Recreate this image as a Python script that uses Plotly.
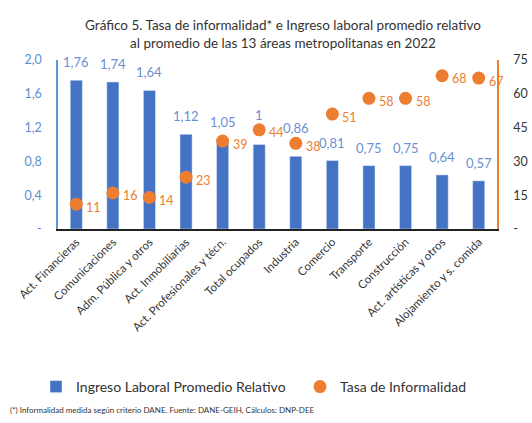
import plotly.graph_objects as go

categories = ["Act. Financieras", "Comunicaciones", "Adm. Pública y otros", "Act. Inmobiliarias",
              "Act. Profesionales y técn.", "Total ocupados", "Industria", "Comercio",
              "Transporte", "Construcción", "Act. artísticas y otros", "Alojamiento y s. comida"]
ingreso = [1.76, 1.74, 1.64, 1.12, 1.05, 1.00, 0.86, 0.81, 0.75, 0.75, 0.64, 0.57]
informalidad = [11, 16, 14, 23, 39, 44, 38, 51, 58, 58, 68, 67]
left_ticks = [0, 0.4, 0.8, 1.2, 1.6, 2.0]
left_ticktext = ["-", "0,4", "0,8", "1,2", "1,6", "2,0"]
right_ticks = [0, 15, 30, 45, 60, 75]
right_ticktext = ["-", "15", "30", "45", "60", "75"]

def fmt(v):
    s = f"{v:.2f}".rstrip("0").rstrip(".")
    return s.replace(".", ",")

FONT = "Lato"
BLUE = "#4472C4"
ORANGE = "#ED7D31"
# extra upward nudge (px) for bar labels that were moved to avoid dots
bar_label_nudge = {"Total ocupados": 12, "Industria": 10}

fig = go.Figure()
fig.add_trace(go.Bar(x=categories, y=ingreso, name="Ingreso Laboral Promedio Relativo",
                     marker_color=BLUE, width=0.33, yaxis="y", legend="legend", showlegend=True))
fig.add_trace(go.Scatter(x=categories, y=informalidad, name="Tasa de Informalidad", mode="markers",
                         marker=dict(color=ORANGE, size=13), yaxis="y2", cliponaxis=False,
                         legend="legend2", showlegend=True))

annotations = []
for c, v in zip(categories, ingreso):
    annotations.append(dict(x=c, y=v, xref="x", yref="y", text=fmt(v), showarrow=False,
                            yshift=18 + bar_label_nudge.get(c, 0),
                            font=dict(color="#6A8FD4", size=13, family=FONT)))
for c, v in zip(categories, informalidad):
    annotations.append(dict(x=c, y=v, xref="x", yref="y2", text=str(v), showarrow=False,
                            xanchor="left", xshift=8, yshift=-3,
                            font=dict(color=ORANGE, size=12.5, family=FONT)))
annotations.append(dict(x=-0.114, y=-1.071, xref="paper", yref="paper", xanchor="left", yanchor="middle",
                        text="(*) Informalidad medida según criterio DANE. Fuente: DANE-GEIH, Cálculos: DNP-DEE",
                        showarrow=False, font=dict(size=8, color="#333333", family=FONT)))

legend_common = dict(orientation="h", yanchor="middle", y=-0.935, xanchor="left",
                     font=dict(size=14, color="#333333", family=FONT), itemwidth=30,
                     bgcolor="rgba(0,0,0,0)")

fig.update_layout(
    width=532, height=423,
    margin=dict(l=58, r=35, t=60, b=194),
    paper_bgcolor="white", plot_bgcolor="white",
    font=dict(family=FONT, color="#404040"),
    showlegend=True,
    title=dict(text="Gráfico 5. Tasa de informalidad* e Ingreso laboral promedio relativo<br>al promedio de las 13 áreas metropolitanas en 2022",
               x=283 / 532, xanchor="center", y=1 - 30 / 423, yanchor="middle",
               font=dict(size=13.5, color="#333333", family=FONT)),
    xaxis=dict(range=[-0.5, 11.5], tickangle=-45, showline=True, linecolor="#222222", linewidth=1.5,
               ticks="", tickfont=dict(size=11.5, color="#333333", family=FONT), showgrid=False,
               automargin=False),
    yaxis=dict(range=[0, 2.0], tickvals=left_ticks, ticktext=left_ticktext, showline=True,
               linecolor="#5B9BD5", linewidth=1.5, showgrid=False, zeroline=False, ticks="",
               tickfont=dict(size=12.5, color="#5B8FD0", family=FONT), ticklabelstandoff=12,
               automargin=False),
    yaxis2=dict(range=[0, 75], tickvals=right_ticks, ticktext=right_ticktext, overlaying="y", side="right",
                showline=True, linecolor=ORANGE, linewidth=1.5, showgrid=False, zeroline=False, ticks="",
                tickfont=dict(size=12.5, color="#333333", family=FONT), ticklabelstandoff=12,
                automargin=False),
    legend=dict(x=(36 - 58) / 439, **legend_common),
    legend2=dict(x=(300 - 58) / 439, **legend_common),
    annotations=annotations,
    bargap=0.6,
)
fig.write_html("out.html", config={"displayModeBar": False},
               post_script="document.body.style.margin='0';")
